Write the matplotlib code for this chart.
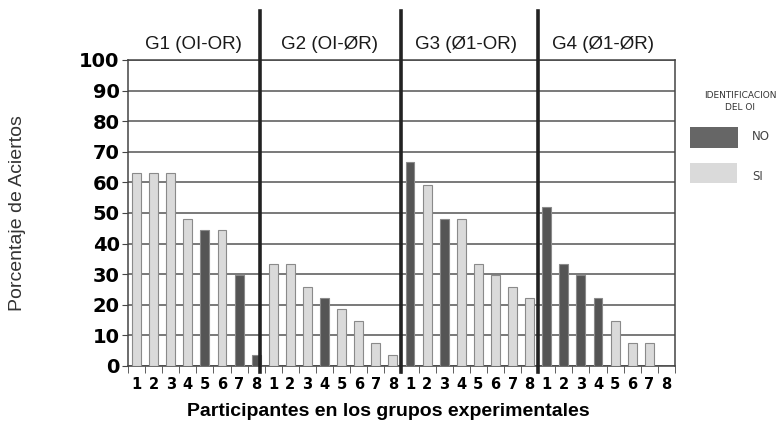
import numpy as np
import matplotlib
matplotlib.use("Agg")
import matplotlib.pyplot as plt
from matplotlib.patches import Rectangle

# Data
groups = ["G1 (OI-OR)", "G2 (OI-ØR)", "G3 (Ø1-OR)", "G4 (Ø1-ØR)"]
participants = ["1", "2", "3", "4", "5", "6", "7", "8"]
g1 = [63, 63, 63, 48, 44.4, 44.4, 29.6, 3.7]
g2 = [33.3, 33.3, 25.9, 22.2, 18.5, 14.8, 7.4, 3.7]
g3 = [66.7, 59.3, 48.1, 48.1, 33.3, 29.6, 25.9, 22.2]
g4 = [51.8, 33.3, 29.6, 22.2, 14.8, 7.4, 7.4, 0]
# identification of OI: 1 = SI (light), 0 = NO (dark)
id1 = [1, 1, 1, 1, 0, 1, 0, 0]
id2 = [1, 1, 1, 0, 1, 1, 1, 1]
id3 = [0, 1, 0, 1, 1, 1, 1, 1]
id4 = [0, 0, 0, 0, 1, 1, 1, 1]
separators = [7.2, 15.5, 23.5]

values = g1 + g2 + g3 + g4
ident = id1 + id2 + id3 + id4
dark = "#555555"
light = "#dadada"
colors = [light if s else dark for s in ident]

fig = plt.figure(figsize=(7.83, 4.24), dpi=100)
ax = fig.add_axes([0.1635, 0.1368, 0.6985, 0.7217])

x = np.arange(len(values))
ax.bar(x, values, width=0.52, color=colors, edgecolor="#8a8a8a", linewidth=0.8, zorder=3)

ax.set_xlim(-0.5, len(values) - 0.5)
ax.set_ylim(0, 100)
ax.set_yticks(np.arange(0, 101, 10))
ax.set_yticklabels([str(v) for v in range(0, 101, 10)], fontsize=14, fontweight="heavy",
                   family="DejaVu Sans")
ax.yaxis.grid(True, color="#555555", linewidth=1.1, zorder=0)
ax.set_xticks(x)
ax.set_xticklabels(participants * 4, fontsize=10.5, fontweight="bold")
ax.set_xticks(np.arange(-0.5, len(values), 1), minor=True)
ax.tick_params(axis="x", which="major", length=0, pad=8)
ax.tick_params(axis="x", which="minor", length=5, direction="out", color="#444444")
ax.tick_params(axis="y", length=4, color="#444444", pad=2)
for s in ["left", "right", "top", "bottom"]:
    ax.spines[s].set_color("#444444")
    ax.spines[s].set_linewidth(1.1)

# group separators
for sx in separators:
    ax.plot([sx, sx], [-0.02, 1.16], color="#222222", linewidth=2.6,
            transform=ax.get_xaxis_transform(), clip_on=False, zorder=5)

# group titles
for i, g in enumerate(groups):
    ax.text(8 * i + 3.3, 1.05, g, transform=ax.get_xaxis_transform(),
            ha="center", va="center", fontsize=13.5, color="#1a1a1a",
            family="Liberation Sans")

fig.text(18 / 783, 1 - 213 / 424, "Porcentaje de Aciertos", rotation=90, fontsize=14,
         color="#333333", ha="center", va="center", family="Liberation Sans")
fig.text(388 / 783, 1 - 411 / 424, "Participantes en los grupos experimentales",
         fontsize=14, fontweight="heavy", family="Liberation Sans", ha="center", va="center")

# legend
fig.text(740 / 783, 1 - 96 / 424, "IDENTIFICACION", fontsize=6.5, ha="center", va="center",
         color="#333333")
fig.text(740 / 783, 1 - 108 / 424, "DEL OI", fontsize=6.5, ha="center", va="center",
         color="#333333")
fig.patches.append(Rectangle((690 / 783, 1 - 148 / 424), 48 / 783, 21 / 424,
                             transform=fig.transFigure, facecolor="#666666", edgecolor="none"))
fig.patches.append(Rectangle((690 / 783, 1 - 183 / 424), 47 / 783, 20 / 424,
                             transform=fig.transFigure, facecolor="#dadada", edgecolor="none"))
fig.text(752 / 783, 1 - 137 / 424, "NO", fontsize=8.5, va="center", color="#444444")
fig.text(752 / 783, 1 - 176 / 424, "SI", fontsize=8.5, va="center", color="#444444")

fig.savefig("out.png", dpi=100)
